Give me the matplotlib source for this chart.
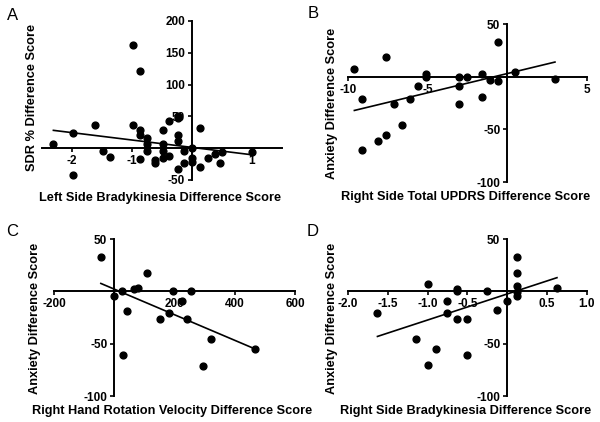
import numpy as np
import matplotlib.pyplot as plt

plt.rcParams['font.family'] = ['Liberation Sans', 'DejaVu Sans']
plt.rcParams['font.weight'] = 'bold'

# panel A
a_x = [-2.31, -1.99, -1.99, -1.62, -1.48, -1.37, -0.98, -0.98, -0.87, -0.87, -0.87,
       -0.87, -0.75, -0.75, -0.75, -0.62, -0.62, -0.49, -0.49, -0.49, -0.49, -0.38,
       -0.38, -0.24, -0.24, -0.24, -0.24, -0.24, -0.13, -0.13, 0.0, 0.0, 0.0, 0.14,
       0.14, 0.26, 0.39, 0.47, 0.5, 1.0]
a_y = [6, 24, -42, 36, -5, -14, 162, 37, 122, 28, 20, -17, 16, 6, -5, -19, -23, 28,
       7, -5, -15, 43, -13, 50, 48, 20, 11, -33, -5, -23, 0, -15, -22, 32, -29, -16,
       -9, -23, -6, -6]
a_fit = (-11.6, 1.2)

# panel B
b_x = [-9.6, -9.1, -9.1, -8.1, -7.6, -7.6, -7.1, -6.6, -6.1, -5.6, -5.1, -5.1, -3.0,
       -3.0, -3.0, -2.55, -1.57, -1.57, -1.05, -0.57, -0.57, 0.46, 3.0]
b_y = [7.6, -21, -70, -61, 18.7, -55, -26, -46, -21, -8.5, 2.5, 0, 0, -9, -26, 0, 3,
       -19, -3, 33, -4, 4.4, -2]
b_fit = (3.65, 3.05)

# panel C
c_x = [-44.6, 0, 24.5, 41, 28, 66, 80, 110, 150, 180, 195, 223, 240, 256, 294, 321, 467]
c_y = [33, -4, 0, -19, -61, 2, 3, 18, -26, -21, 0, -9, -26, 0, -71, -46, -55]
c_fit = (-0.1224, 2.1)

# panel D
d_x = [-1.63, -1.14, -1.0, -1.0, -0.89, -0.75, -0.75, -0.63, -0.63, -0.63, -0.5, -0.5,
       -0.25, -0.13, 0.0, 0.125, 0.125, 0.125, 0.125, 0.125, 0.625]
d_y = [-21, -46, 7.3, -70, -55, -9, -21, 2.5, 0.6, -26, -26, -61, 0, -18, -9, 33, 18,
       5, -1, -4, 3]
d_fit = (24.9, -2.5)

panels = [
    ('A', a_x, a_y, a_fit, (-2.5, 1.5), (-50, 200), [-2, -1, 0, 1], [-50, 0, 50, 100, 150, 200],
     'Left Side Bradykinesia Difference Score', 'SDR % Difference Score',
     [0.07, 0.5735, 0.40, 0.377], (160, 198), (32, 97), (13, 16)),
    ('B', b_x, b_y, b_fit, (-10, 5), (-100, 50), [-10, -5, 0, 5], [-100, -50, 0, 50],
     'Right Side Total UPDRS Difference Score', 'Anxiety Difference Score',
     [0.58, 0.5687, 0.398, 0.374], (466, 197), (332, 103), (313, 14)),
    ('C', c_x, c_y, c_fit, (-200, 600), (-100, 50), [-200, 0, 200, 400, 600], [-100, -50, 0, 50],
     'Right Hand Rotation Velocity Difference Score', 'Anxiety Difference Score',
     [0.09, 0.0616, 0.402, 0.372], (172, 411), (35, 318), (12, 232)),
    ('D', d_x, d_y, d_fit, (-2, 1), (-100, 50), [-2.0, -1.5, -1.0, -0.5, 0, 0.5, 1.0], [-100, -50, 0, 50],
     'Right Side Bradykinesia Difference Score', 'Anxiety Difference Score',
     [0.58, 0.0616, 0.398, 0.372], (466, 411), (332, 318), (313, 232)),
]

W, H = 600, 422
fig = plt.figure(figsize=(6, 4.22), dpi=100)

for letter, x, y, fit, xl, yl, xt, yt, xlab, ylab, pos, xlpos, ylpos, lpos in panels:
    ax = fig.add_axes(pos)
    ax.scatter(x, y, s=24, color='black', zorder=3, clip_on=False)
    fx = np.array([min(x), max(x)])
    ax.plot(fx, fit[0] * fx + fit[1], color='black', lw=1.2, zorder=3)
    ax.set_xlim(xl)
    ax.set_ylim(yl)
    for s in ['top', 'right']:
        ax.spines[s].set_visible(False)
    ax.spines['left'].set_position(('data', 0))
    ax.spines['bottom'].set_position(('data', 0))
    for s in ['left', 'bottom']:
        ax.spines[s].set_linewidth(1.4)
    ax.set_xticks(xt)
    if letter == 'D':
        ax.set_xticklabels(['' if v == 0 else ('%.1f' % v) for v in xt])
    else:
        ax.set_xticklabels(['' if v == 0 else str(v) for v in xt])
    ax.set_yticks(yt)
    ax.set_yticklabels(['' if v == 0 else str(v) for v in yt])
    ax.tick_params(direction='out', length=3, width=1.2, labelsize=8.5, pad=2)
    ax.patch.set_visible(False)
    fig.text(xlpos[0] / W, 1 - xlpos[1] / H, xlab, ha='center', va='center', fontsize=9.2)
    fig.text(ylpos[0] / W, 1 - ylpos[1] / H, ylab, ha='center', va='center', fontsize=9.2,
             rotation=90)
    fig.text(lpos[0] / W, 1 - lpos[1] / H, letter, ha='center', va='center', fontsize=12,
             fontweight='normal')

fig.savefig('out.png', dpi=100)
